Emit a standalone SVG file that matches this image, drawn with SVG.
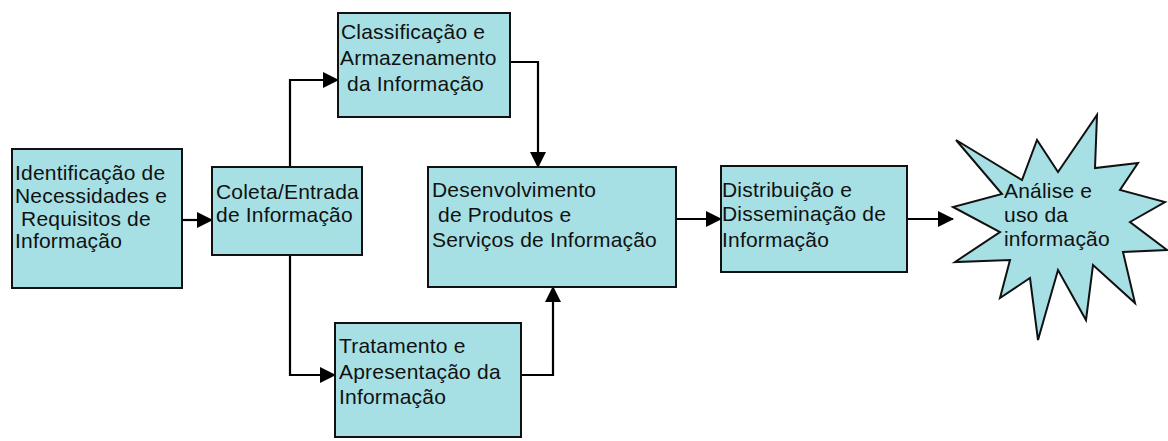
<svg xmlns="http://www.w3.org/2000/svg" width="1168" height="441" viewBox="0 0 1168 441">
<defs>
<style>
.box{fill:#a6e0e4;stroke:#111;stroke-width:2}
.t{font-family:"Liberation Sans",Arial,sans-serif;font-size:21px;letter-spacing:0.2px;fill:#111}
.c{fill:none;stroke:#000;stroke-width:2.2}
</style>
<marker id="ah" markerWidth="16" markerHeight="16" refX="15" refY="8" orient="auto" markerUnits="userSpaceOnUse">
<path d="M0,0 L16,8 L0,16 Z" fill="#000"/>
</marker>
</defs>
<rect width="1168" height="441" fill="#fff"/>
<g id="connectors">
<path class="c" d="M182,220 H212" marker-end="url(#ah)"/>
<path class="c" d="M290,167 V80 H338" marker-end="url(#ah)"/>
<path class="c" d="M290,255 V375 H335" marker-end="url(#ah)"/>
<path class="c" d="M508,62 H538 V167" marker-end="url(#ah)"/>
<path class="c" d="M521,375 H553 V287" marker-end="url(#ah)"/>
<path class="c" d="M676,219 H721" marker-end="url(#ah)"/>
<path class="c" d="M907,219 H953" marker-end="url(#ah)"/>
</g>
<g id="n1">
<rect class="box" x="12" y="149" width="170" height="139"/>
<text class="t" x="15" y="180">Identificação de</text>
<text class="t" x="15" y="203">Necessidades e</text>
<text class="t" x="15" y="226" xml:space="preserve"> Requisitos de</text>
<text class="t" x="15" y="248">Informação</text>
</g>
<g id="n2">
<rect class="box" x="212" y="167" width="150" height="88"/>
<text class="t" x="216" y="199">Coleta/Entrada</text>
<text class="t" x="216" y="222">de Informação</text>
</g>
<g id="n3">
<rect class="box" x="338" y="13" width="172" height="104"/>
<text class="t" x="341" y="39">Classificação e</text>
<text class="t" x="340" y="65">Armazenamento</text>
<text class="t" x="341" y="91" xml:space="preserve"> da Informação</text>
</g>
<g id="n4">
<rect class="box" x="428" y="167" width="248" height="120"/>
<text class="t" x="432" y="197">Desenvolvimento</text>
<text class="t" x="432" y="222" xml:space="preserve"> de Produtos e</text>
<text class="t" x="432" y="247">Serviços de Informação</text>
</g>
<g id="n5">
<rect class="box" x="335" y="323" width="186" height="114"/>
<text class="t" x="339" y="353">Tratamento e</text>
<text class="t" x="339" y="379">Apresentação da</text>
<text class="t" x="339" y="404">Informação</text>
</g>
<g id="n6">
<rect class="box" x="721" y="166" width="186" height="106"/>
<text class="t" x="722" y="197">Distribuição e</text>
<text class="t" x="722" y="221">Disseminação de</text>
<text class="t" x="722" y="247">Informação</text>
</g>
<g id="n7">
<polygon class="box" points="956,140 1022,180 1037,140 1058,172 1097,115 1095,168 1138,163 1120,190 1165,202 1130,222 1167,250 1123,252 1135,303 1093,265 1086,320 1058,270 1038,340 1030,278 1000,298 1010,260 955,262 1000,232 953,207 1002,194"/>
<text class="t" x="1004" y="198">Análise e</text>
<text class="t" x="1004" y="222">uso da</text>
<text class="t" x="1004" y="246">informação</text>
</g>
</svg>
